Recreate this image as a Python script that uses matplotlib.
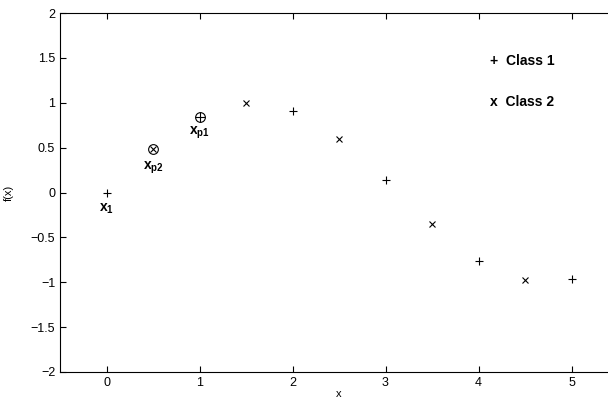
import matplotlib
matplotlib.use("Agg")
import matplotlib.pyplot as plt

plt.rcParams['font.family'] = ['Liberation Sans', 'DejaVu Sans']
plt.rcParams['mathtext.fontset'] = 'custom'
plt.rcParams['mathtext.rm'] = 'Liberation Sans'
plt.rcParams['mathtext.bf'] = 'Liberation Sans:bold'

# class 1 samples (+)
x_c1 = [0, 2, 3, 4, 5]
y_c1 = [0.0, 0.91, 0.14, -0.76, -0.96]
# class 2 samples (x)
x_c2 = [1.5, 2.5, 3.5, 4.5]
y_c2 = [1.0, 0.60, -0.35, -0.98]
# prototype points
xp1, yp1 = 1.0, 0.84
xp2, yp2 = 0.5, 0.48

fig = plt.figure(figsize=(6.08, 4.0), dpi=100)
ax = fig.add_axes([60/608, 28/400, 558/608, 359/400])

ax.plot(x_c1, y_c1, '+', color='black', ms=6, mew=0.8)
ax.plot(x_c2, y_c2, 'x', color='black', ms=4, mew=0.8)
ax.plot([xp1], [yp1], 'o', mfc='none', mec='black', ms=7, mew=0.8)
ax.plot([xp1], [yp1], '+', color='black', ms=7, mew=0.8)
ax.plot([xp2], [yp2], 'o', mfc='none', mec='black', ms=7, mew=0.8)
ax.plot([xp2], [yp2], 'x', color='black', ms=5, mew=0.8)

ax.text(0, -0.18, r'$\mathbf{x}_{\mathbf{1}}$', ha='center', va='center', fontsize=10)
ax.text(0.5, 0.28, r'$\mathbf{x}_{\mathbf{p2}}$', ha='center', va='center', fontsize=10)
ax.text(1.0, 0.66, r'$\mathbf{x}_{\mathbf{p1}}$', ha='center', va='center', fontsize=10)

ax.text(4.12, 1.47, '+  Class 1', fontweight='bold', fontsize=10, va='center')
ax.text(4.12, 1.01, 'x  Class 2', fontweight='bold', fontsize=10, va='center')

ax.set_xlim(-0.5, 5.5)
ax.set_ylim(-2, 2)
ax.set_xticks([0, 1, 2, 3, 4, 5])
ax.set_yticks([-2, -1.5, -1, -0.5, 0, 0.5, 1, 1.5, 2])
ax.set_yticklabels(['\u22122', '\u22121.5', '\u22121', '\u22120.5', '0', '0.5', '1', '1.5', '2'])
ax.tick_params(direction='in', top=True, right=True, labelsize=9, length=4, width=0.8)
ax.set_xlabel('x', fontsize=8, labelpad=0)
ax.set_ylabel('f(x)', fontsize=8, labelpad=12)

fig.savefig('out.png', dpi=100)
